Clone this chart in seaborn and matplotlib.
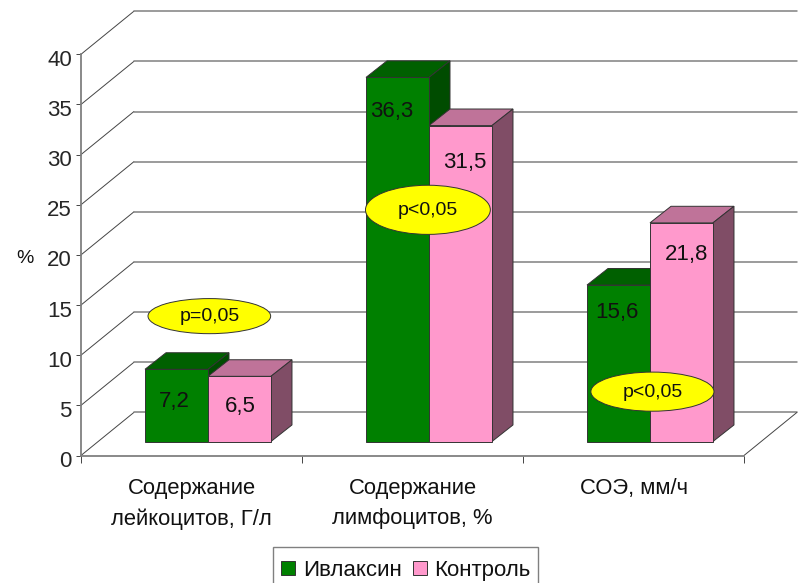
import matplotlib
matplotlib.use("Agg")
import matplotlib.pyplot as plt
import pandas as pd
import seaborn as sns
from matplotlib.patches import Ellipse, Polygon, Rectangle
from matplotlib.transforms import ScaledTranslation

# data
categories = ["Содержание\nлейкоцитов, Г/л", "Содержание\nлимфоцитов, %", "СОЭ, мм/ч"]
series_names = ["Ивлаксин", "Контроль"]
ivlaksin = [7.2, 36.3, 15.6]
kontrol = [6.5, 31.5, 21.8]
value_labels = [["7,2", "36,3", "15,6"], ["6,5", "31,5", "21,8"]]
y_ticks = [0, 5, 10, 15, 20, 25, 30, 35, 40]

# p-value ovals: text, centre x (category units), centre y (axis units)
p_texts = ["p=0,05", "p<0,05", "p<0,05"]
p_x = [0.006, 0.995, 2.011]
p_y = [12.5, 23.1, 4.97]
p_w = [0.555, 0.565, 0.557]
p_h = [3.5, 4.9, 3.9]

# hand placed label offsets from the bar centre (x) and the bar top (y)
label_dx = [[-0.01, -0.027, -0.009], [0.002, 0.018, 0.023]]
label_dy = [[-3.2, -3.4, -2.7], [-3.0, -3.7, -3.2]]

# pseudo 3D geometry, category units / axis units
BAR_DX, BAR_DY = 21 / 221, 1.65
FRONT_DX, FRONT_DY = -16.5 / 221, -1.4
WALL_DX, WALL_DY = 53 / 221, 4.3
X_LEFT, X_RIGHT = -0.575, 2.425

colors = {"Ивлаксин": "#008000", "Контроль": "#FF99CC"}
top_colors = ["#006000", "#BF7399"]
side_colors = ["#004C00", "#804D66"]
GREY = "#808080"

sns.set_theme(style="white")
plt.rcParams["font.family"] = ["Liberation Sans", "DejaVu Sans"]
plt.rcParams["text.color"] = "#111111"

df = pd.DataFrame({
    "category": categories * 2,
    "series": [series_names[0]] * 3 + [series_names[1]] * 3,
    "value": ivlaksin + kontrol,
})

fig, ax = plt.subplots(figsize=(8.02, 5.83), dpi=100)
ax.set_position([0, 0, 1, 1])
ax.patch.set_alpha(0)

sns.barplot(
    data=df, x="category", y="value", hue="series", palette=colors,
    width=0.57, saturation=1, edgecolor="#333333", linewidth=0.7, ax=ax,
)
ax.set_xlim(-208 / 221, 594 / 221)
ax.set_ylim(-141.5 / 10.03, 441.5 / 10.03)
ax.set_xlabel("")
ax.set_ylabel("")

# back wall and left wall grid
for v in y_ticks:
    y_front = v + FRONT_DY
    y_back = y_front + WALL_DY
    ax.plot([X_LEFT, X_LEFT + WALL_DX], [y_front, y_back], color="#444444", lw=0.7, zorder=1)
    ax.plot([X_LEFT + WALL_DX, X_RIGHT + WALL_DX], [y_back, y_back], color=GREY, lw=1.1, zorder=1)
ax.plot([X_RIGHT, X_RIGHT + WALL_DX], [FRONT_DY, FRONT_DY + WALL_DY], color="#444444", lw=0.7, zorder=1)

# top and side faces of the bars, built from the bars seaborn drew
for i, container in enumerate(ax.containers):
    for j, bar in enumerate(container):
        x0 = bar.get_x()
        x1 = x0 + bar.get_width()
        top = bar.get_height()
        bar.set_zorder(4)
        ax.add_patch(Polygon(
            [(x0, top), (x1, top), (x1 + BAR_DX, top + BAR_DY), (x0 + BAR_DX, top + BAR_DY)],
            facecolor=top_colors[i], edgecolor="#333333", lw=0.7, zorder=2 + i * 0.5,
        ))
        ax.add_patch(Polygon(
            [(x1, 0), (x1, top), (x1 + BAR_DX, top + BAR_DY), (x1 + BAR_DX, BAR_DY)],
            facecolor=side_colors[i], edgecolor="#333333", lw=0.7, zorder=2 + i * 0.5,
        ))
        ax.text(x0 + bar.get_width() / 2 + label_dx[i][j], top + label_dy[i][j],
                value_labels[i][j], ha="center", va="center", fontsize=16, zorder=6)

# p-value ovals
for text, x, y, w, h in zip(p_texts, p_x, p_y, p_w, p_h):
    ax.add_patch(Ellipse((x, y), w, h, facecolor="#FFFF00", edgecolor="#333333", lw=0.7, zorder=5))
    ax.text(x, y - 0.05, text, ha="center", va="center", fontsize=14, zorder=6)

# the axes sit on the front plane
for side in ["top", "right"]:
    ax.spines[side].set_visible(False)
ax.spines["left"].set_position(("data", X_LEFT))
ax.spines["left"].set_bounds(FRONT_DY, 40 + FRONT_DY)
ax.spines["bottom"].set_position(("data", FRONT_DY))
ax.spines["bottom"].set_bounds(X_LEFT, X_RIGHT)
for side in ["left", "bottom"]:
    ax.spines[side].set_color(GREY)
    ax.spines[side].set_linewidth(1.3)
    ax.spines[side].set_zorder(3)

ax.set_yticks([v + FRONT_DY for v in y_ticks], [str(v) for v in y_ticks])
ax.tick_params(axis="y", left=True, length=3.6, width=0.7, color="#444444", labelsize=16, pad=3)
nudge = ScaledTranslation(0, -3.5 / 100, fig.dpi_scale_trans)
for label in ax.get_yticklabels():
    label.set_transform(label.get_transform() + nudge)
ax.set_xticks([X_LEFT, 0.425, 1.425, 2.425], [""] * 4)
ax.tick_params(axis="x", which="major", bottom=True, length=5, width=0.7, color="#444444")
ax.set_xticks([c + FRONT_DX for c in range(3)], categories, minor=True)
ax.tick_params(axis="x", which="minor", bottom=False, length=0, labelsize=15.8, pad=16)
for label in ax.get_xticklabels(minor=True):
    label.set_linespacing(1.6)
    label.set_color("#111111")

ax.text(-183 / 221, 18.2, "%", ha="center", va="center", fontsize=14)

# legend at the bottom edge of the picture, its lower rim falls outside
ax.add_patch(Rectangle(
    (273 / 802, -8 / 583), 265 / 802, 44 / 583, transform=fig.transFigure,
    facecolor="white", edgecolor=GREY, lw=1.0, clip_on=False, zorder=4.5,
))
handles, labels = ax.get_legend_handles_labels()
leg = ax.legend(
    handles, labels, loc="lower left", bbox_to_anchor=(281 / 802, 0.0034),
    ncol=2, frameon=False, fontsize=16, handlelength=0.63, handleheight=0.63,
    handletextpad=0.35, columnspacing=0.5, borderpad=0, borderaxespad=0,
)

fig.savefig("out.png", dpi=100)
